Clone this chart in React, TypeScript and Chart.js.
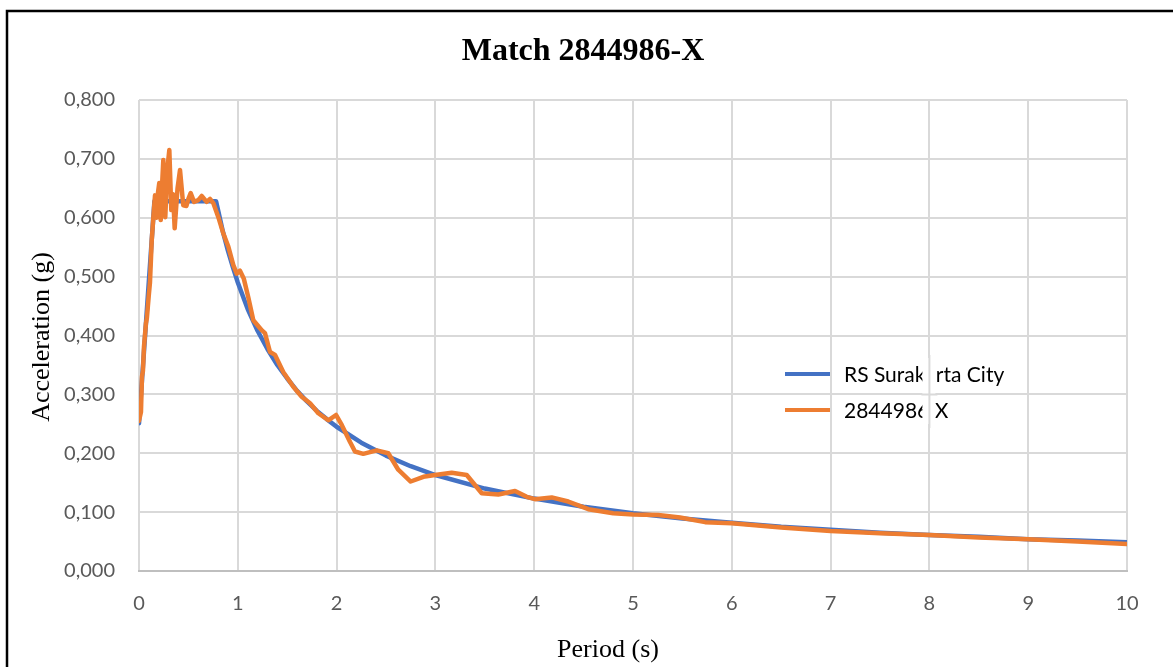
import React, { useEffect, useRef } from "react";
import { Chart, registerables } from "chart.js";

Chart.register(...registerables);

const chartTitle = "Match 2844986-X";
const xAxisTitle = "Period (s)";
const yAxisTitle = "Acceleration (g)";
const seriesNames = ["RS Surakarta City", "2844986 X"];
const seriesColors = ["#4472C4", "#ED7D31"];

const xTickLabels = ["0", "1", "2", "3", "4", "5", "6", "7", "8", "9", "10"];
const yTickLabels = ["0,000", "0,100", "0,200", "0,300", "0,400", "0,500", "0,600", "0,700", "0,800"];

const targetPeriods = [0, 0.156, 0.78, 0.85, 0.9, 0.95, 1.0, 1.1, 1.2, 1.3, 1.4, 1.5, 1.6, 1.7, 1.8, 1.9, 2.0, 2.25, 2.5, 2.75, 3.0, 3.5, 4.0, 4.5, 5.0, 5.5, 6.0, 6.5, 7.0, 7.5, 8.0, 8.5, 9.0, 9.5, 10.0];
const targetAccel = [0.251, 0.628, 0.628, 0.576, 0.544, 0.516, 0.49, 0.445, 0.408, 0.377, 0.35, 0.327, 0.306, 0.288, 0.272, 0.258, 0.245, 0.218, 0.196, 0.178, 0.163, 0.14, 0.123, 0.109, 0.098, 0.089, 0.082, 0.075, 0.07, 0.065, 0.061, 0.058, 0.054, 0.052, 0.049];

const matchPeriods = [0, 0.01, 0.02, 0.03, 0.04, 0.05, 0.06, 0.07, 0.08, 0.09, 0.1, 0.111, 0.129, 0.145, 0.162, 0.179, 0.19, 0.205, 0.22, 0.235, 0.246, 0.266, 0.286, 0.307, 0.327, 0.345, 0.361, 0.39, 0.415, 0.448, 0.48, 0.5, 0.523, 0.557, 0.6, 0.635, 0.685, 0.719, 0.752, 0.803, 0.85, 0.904, 0.954, 0.989, 1.022, 1.06, 1.106, 1.157, 1.242, 1.275, 1.326, 1.377, 1.46, 1.562, 1.647, 1.731, 1.815, 1.916, 1.994, 2.052, 2.136, 2.186, 2.27, 2.406, 2.523, 2.624, 2.75, 2.878, 2.996, 3.165, 3.317, 3.469, 3.637, 3.806, 3.924, 4.008, 4.177, 4.345, 4.548, 4.8, 5.003, 5.256, 5.476, 5.73, 6.0, 6.5, 7.0, 7.5, 8.0, 8.5, 9.0, 9.5, 10.0];
const matchAccel = [0.255, 0.255, 0.27, 0.33, 0.34, 0.38, 0.4, 0.42, 0.43, 0.45, 0.47, 0.49, 0.562, 0.6, 0.638, 0.6, 0.64, 0.659, 0.596, 0.66, 0.698, 0.601, 0.681, 0.715, 0.613, 0.64, 0.582, 0.65, 0.681, 0.621, 0.62, 0.632, 0.642, 0.627, 0.63, 0.637, 0.627, 0.632, 0.625, 0.601, 0.575, 0.551, 0.52, 0.505, 0.51, 0.497, 0.465, 0.426, 0.409, 0.404, 0.372, 0.367, 0.338, 0.313, 0.296, 0.285, 0.268, 0.256, 0.265, 0.248, 0.219, 0.203, 0.199, 0.205, 0.2, 0.172, 0.152, 0.16, 0.163, 0.167, 0.163, 0.132, 0.13, 0.136, 0.126, 0.122, 0.125, 0.118, 0.105, 0.098, 0.096, 0.095, 0.091, 0.083, 0.081, 0.074, 0.068, 0.064, 0.061, 0.057, 0.054, 0.05, 0.046];

const decorPlugin = {
  id: "decor",
  afterDraw(chart: any) {
    const ctx = chart.ctx as CanvasRenderingContext2D;
    const xs = chart.scales.x;
    const ys = chart.scales.y;
    ctx.save();

    // outer frame (left & top visible)
    ctx.strokeStyle = "#000000";
    ctx.lineWidth = 2.5;
    ctx.beginPath();
    ctx.moveTo(7, 700);
    ctx.lineTo(7, 11);
    ctx.lineTo(1200, 11);
    ctx.stroke();

    // title
    ctx.fillStyle = "#000000";
    ctx.textAlign = "center";
    ctx.textBaseline = "middle";
    ctx.font = 'bold 32px "Liberation Serif"';
    ctx.fillText(chartTitle, 583, 52);

    // axis titles
    ctx.font = '26px "Liberation Serif"';
    ctx.fillText(xAxisTitle, 608, 650);
    ctx.save();
    ctx.translate(42, 337);
    ctx.rotate(-Math.PI / 2);
    ctx.fillText(yAxisTitle, 0, 0);
    ctx.restore();

    // legend
    const rows = [374, 410];
    rows.forEach((y, i) => {
      ctx.strokeStyle = seriesColors[i];
      ctx.lineWidth = 4;
      ctx.lineCap = "butt";
      ctx.beginPath();
      ctx.moveTo(785, y);
      ctx.lineTo(830, y);
      ctx.stroke();
      ctx.fillStyle = "#000000";
      ctx.font = '21px Lato';
      ctx.textAlign = "left";
      ctx.textBaseline = "middle";
      ctx.fillText(seriesNames[i], 844, y + 1);
    });

    // gridline passing over legend text
    const gx = xs.getPixelForValue(8);
    const gy = ys.getPixelForValue(0.3);
    ctx.fillStyle = "#ffffff";
    ctx.fillRect(gx - 7, 358, 13, 66);
    ctx.strokeStyle = "#D9D9D9";
    ctx.lineWidth = 2;
    ctx.beginPath();
    ctx.moveTo(gx, 355);
    ctx.lineTo(gx, 428);
    ctx.moveTo(gx - 8, gy);
    ctx.lineTo(gx + 8, gy);
    ctx.stroke();

    ctx.restore();
  },
};

export default function App() {
  const ref = useRef<HTMLCanvasElement | null>(null);

  useEffect(() => {
    if (!ref.current) return;
    const chart = new Chart(ref.current, {
      type: "line",
      data: {
        datasets: [
          {
            label: seriesNames[0],
            data: targetPeriods.map((x, i) => ({ x, y: targetAccel[i] })),
            borderColor: seriesColors[0],
            backgroundColor: seriesColors[0],
            borderWidth: 4.5,
            pointRadius: 0,
            tension: 0,
            order: 2,
            borderJoinStyle: "round",
            borderCapStyle: "round",
          },
          {
            label: seriesNames[1],
            data: matchPeriods.map((x, i) => ({ x, y: matchAccel[i] })),
            borderColor: seriesColors[1],
            backgroundColor: seriesColors[1],
            borderWidth: 4.5,
            pointRadius: 0,
            tension: 0,
            order: 1,
            borderJoinStyle: "round",
            borderCapStyle: "round",
          },
        ],
      },
      options: {
        animation: false,
        responsive: false,
        devicePixelRatio: 1,
        layout: { padding: { left: 0, right: 46, top: 100, bottom: 0 } },
        plugins: {
          legend: { display: false },
          title: { display: false },
          tooltip: { enabled: false },
        },
        scales: {
          x: {
            type: "linear",
            min: 0,
            max: 10,
            afterFit: (s: any) => {
              s.height = 96;
            },
            ticks: {
              stepSize: 1,
              padding: 21,
              color: "#595959",
              font: { family: "Lato", size: 20 },
              callback: (_v: any, i: number) => xTickLabels[i],
            },
            grid: { color: "#D9D9D9", lineWidth: 2, drawTicks: false },
            border: { display: true, color: "#BFBFBF", width: 2 },
          },
          y: {
            type: "linear",
            min: 0,
            max: 0.8,
            afterFit: (s: any) => {
              s.width = 139;
            },
            ticks: {
              stepSize: 0.1,
              padding: 24,
              color: "#595959",
              font: { family: "Lato", size: 20 },
              callback: (_v: any, i: number) => yTickLabels[i],
            },
            grid: { color: "#D9D9D9", lineWidth: 2, drawTicks: false },
            border: { display: false },
          },
        },
      },
      plugins: [decorPlugin],
    });
    return () => chart.destroy();
  }, []);

  return (
    <div style={{ position: "absolute", left: 0, top: 0, width: 1173, height: 667, background: "#fff" }}>
      <canvas ref={ref} width={1173} height={667} style={{ display: "block" }} />
    </div>
  );
}
